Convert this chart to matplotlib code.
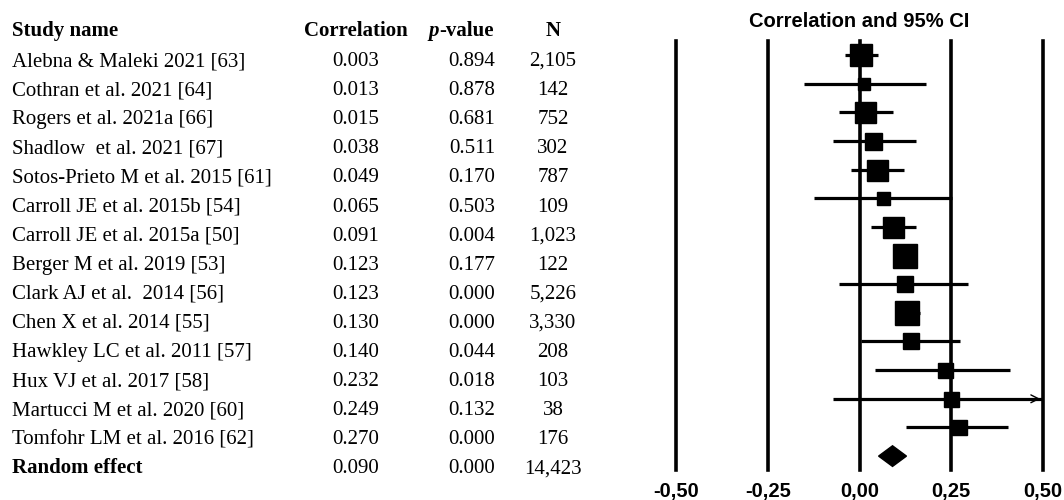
import matplotlib
matplotlib.use("Agg")
import matplotlib.pyplot as plt
import numpy as np

# ---------------- data ----------------
studies = ["Alebna & Maleki 2021 [63]", "Cothran et al. 2021 [64]", "Rogers et al. 2021a [66]",
           "Shadlow  et al. 2021 [67]", "Sotos-Prieto M et al. 2015 [61]", "Carroll JE et al. 2015b [54]",
           "Carroll JE et al. 2015a [50]", "Berger M et al. 2019 [53]", "Clark AJ et al.  2014 [56]",
           "Chen X et al. 2014 [55]", "Hawkley LC et al. 2011 [57]", "Hux VJ et al. 2017 [58]",
           "Martucci M et al. 2020 [60]", "Tomfohr LM et al. 2016 [62]"]
corr = [0.003, 0.013, 0.015, 0.038, 0.049, 0.065, 0.091, 0.123, 0.123, 0.130, 0.140, 0.232, 0.249, 0.270]
pval = ["0.894", "0.878", "0.681", "0.511", "0.170", "0.503", "0.004", "0.177", "0.000", "0.000",
        "0.044", "0.018", "0.132", "0.000"]
n_obs = ["2,105", "142", "752", "302", "787", "109", "1,023", "122", "5,226", "3,330", "208", "103", "38", "176"]
ci_low = [-0.040, -0.152, -0.056, -0.073, -0.022, -0.125, 0.030, 0.100, -0.055, 0.098, 0.005, 0.041, -0.073, 0.128]
ci_high = [0.050, 0.182, 0.090, 0.155, 0.120, 0.253, 0.155, 0.150, 0.297, 0.166, 0.275, 0.410, 0.560, 0.405]
rel_weight = [23, 12, 21, 17, 21, 13, 21, 24, 16, 24, 16, 15, 15, 15]

pooled_label = "Random effect"
pooled_corr = 0.090
pooled_p = "0.000"
pooled_n = "14,423"
pooled_ci = (0.052, 0.128)

xticks = [-0.50, -0.25, 0.00, 0.25, 0.50]
xtick_labels = ["-0,50", "-0,25", "0,00", "0,25", "0,50"]

# ---------------- figure ----------------
W, H = 1064, 500
fig = plt.figure(figsize=(W / 100, H / 100), dpi=100)

serif = ["Liberation Serif", "DejaVu Serif"]
sans = ["Liberation Sans", "DejaVu Sans"]

# forest axes
top_px, bot_px = 41, 470
left_px, right_px = 676, 1043
ax = fig.add_axes([left_px / W, 1 - bot_px / H, (right_px - left_px) / W, (bot_px - top_px) / H])
row0_px, row_step = 55.0, 28.65
ax.set_xlim(xticks[0], xticks[-1])
ax.set_ylim((bot_px - row0_px) / row_step, (top_px - row0_px) / row_step)
for s in ax.spines.values():
    s.set_visible(False)
for xv in xticks:
    ax.axvline(xv, color="black", lw=2.6, clip_on=False, zorder=1)

xmax = xticks[-1]
for i in range(len(studies)):
    lo, hi = ci_low[i], ci_high[i]
    if hi > xmax:
        ax.plot([lo, xmax], [i, i], color="black", lw=2.3, solid_capstyle="butt", zorder=2)
        ax.annotate("", xy=(xmax, i), xytext=(xmax - 0.03, i),
                    arrowprops=dict(arrowstyle="->", color="black", lw=1.0, mutation_scale=14), zorder=3)
    else:
        ax.plot([lo, hi], [i, i], color="black", lw=2.3, solid_capstyle="butt", zorder=2)
    ax.plot([corr[i]], [i], marker="s", color="black", markersize=rel_weight[i] * 0.72, zorder=3)

ip = len(studies)
ax.fill([pooled_ci[0], pooled_corr, pooled_ci[1], pooled_corr],
        [ip, ip - 0.36, ip, ip + 0.36], color="black", zorder=3)

ax.set_xticks(xticks)
ax.set_xticklabels(xtick_labels, fontfamily=sans, fontweight="bold", fontsize=14.5)
ax.tick_params(axis="x", length=0, pad=9)
ax.set_yticks([])
ax.set_title("Correlation and 95% CI", fontfamily=sans, fontweight="bold", fontsize=14.5, pad=10)

# table axes (pixel columns, row units; rows are text baselines)
tax = fig.add_axes([0, 0, 1, 1])
tax.axis("off")
tbase0, tstep = 66.0, 29.1
tax.set_xlim(0, W)
tax.set_ylim((H - tbase0) / tstep, (0 - tbase0) / tstep)

col_name, col_corr, col_p, col_n = 12, 356, 472, 553
fs = 15
hdr_y = (36 - tbase0) / tstep
va = "baseline"
tax.text(col_name, hdr_y, "Study name", fontfamily=serif, fontweight="bold", fontsize=fs, ha="left", va=va)
tax.text(col_corr, hdr_y, "Correlation", fontfamily=serif, fontweight="bold", fontsize=fs, ha="center", va=va)
tax.text(439, hdr_y, "p", fontfamily=serif, fontweight="bold", fontstyle="italic", fontsize=fs, ha="right", va=va)
tax.text(439, hdr_y, "-value", fontfamily=serif, fontweight="bold", fontsize=fs, ha="left", va=va)
tax.text(col_n, hdr_y, "N", fontfamily=serif, fontweight="bold", fontsize=fs, ha="center", va=va)

for i, name in enumerate(studies):
    tax.text(col_name, i, name, fontfamily=serif, fontsize=fs, ha="left", va=va)
    tax.text(col_corr, i, f"{corr[i]:.3f}", fontfamily=serif, fontsize=fs, ha="center", va=va)
    tax.text(col_p, i, pval[i], fontfamily=serif, fontsize=fs, ha="center", va=va)
    tax.text(col_n, i, n_obs[i], fontfamily=serif, fontsize=fs, ha="center", va=va)

tax.text(col_name, ip, pooled_label, fontfamily=serif, fontweight="bold", fontsize=fs, ha="left", va=va)
tax.text(col_corr, ip, f"{pooled_corr:.3f}", fontfamily=serif, fontsize=fs, ha="center", va=va)
tax.text(col_p, ip, pooled_p, fontfamily=serif, fontsize=fs, ha="center", va=va)
tax.text(col_n, ip, pooled_n, fontfamily=serif, fontsize=fs, ha="center", va=va)

fig.savefig("out.png", dpi=100, facecolor="white")
